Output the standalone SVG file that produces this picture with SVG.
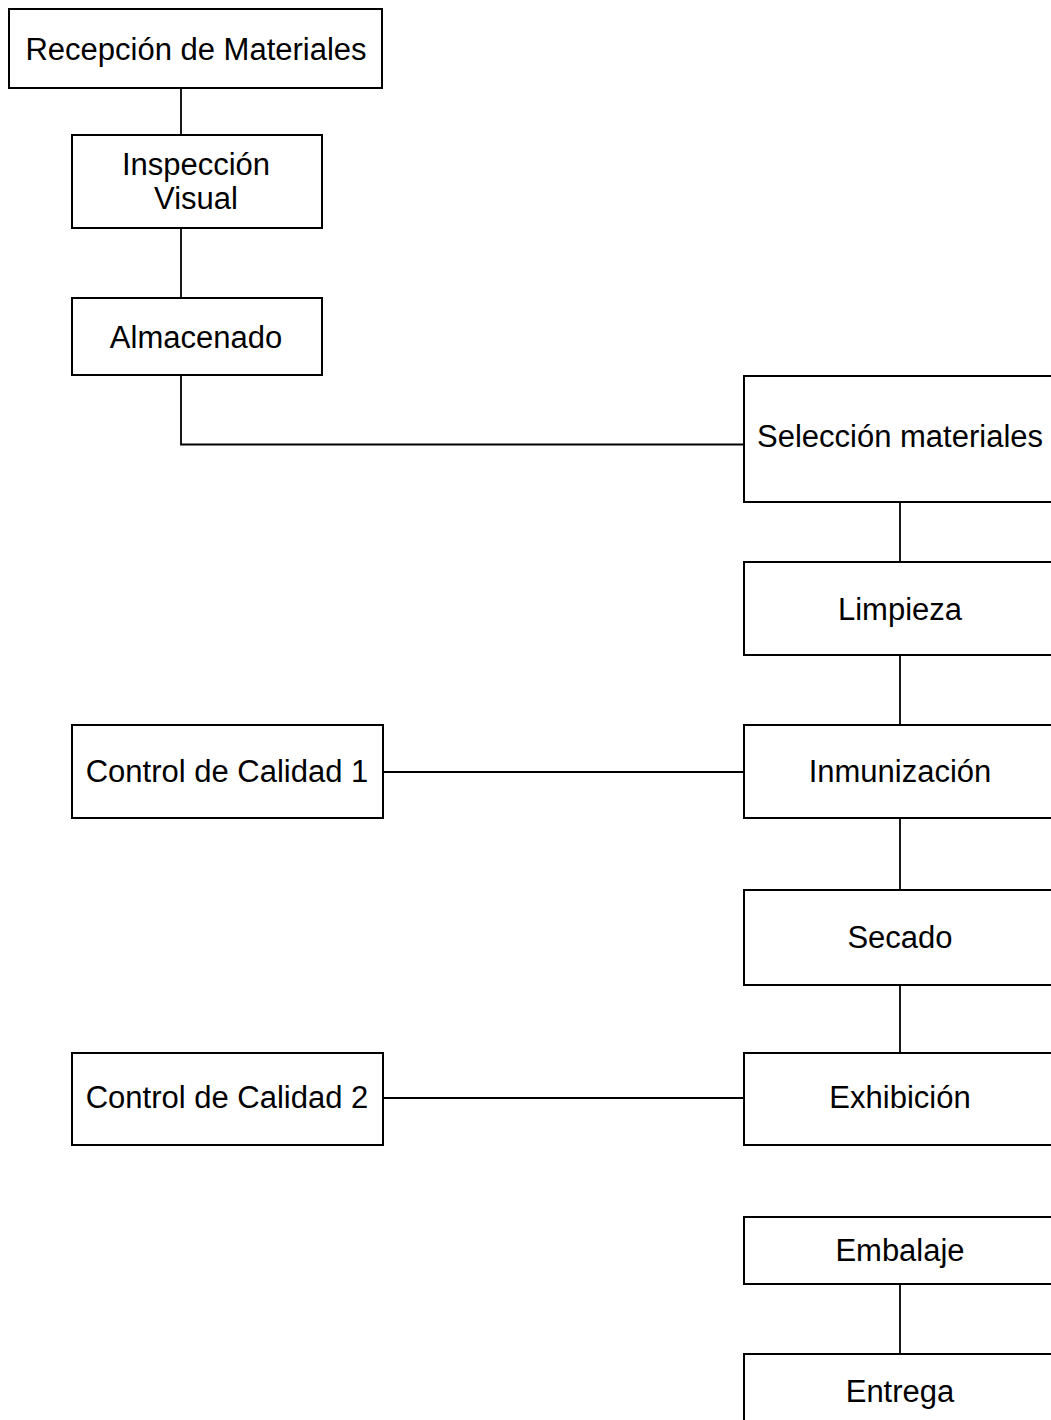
<svg xmlns="http://www.w3.org/2000/svg" width="1051" height="1420" viewBox="0 0 1051 1420">
<style>
rect{fill:#fff;stroke:#000;stroke-width:2}
text{font-family:"Liberation Sans",Arial,sans-serif;font-size:31px;fill:#000;text-anchor:middle}
.c line,.c polyline{stroke:#000;stroke-width:1.8;fill:none}
</style>
<rect x="0" y="0" width="1051" height="1420" style="stroke:none"/>
<g class="c" id="connectors">
<line x1="181" y1="88" x2="181" y2="135"/>
<line x1="181" y1="228" x2="181" y2="298"/>
<polyline points="181,375 181,444.5 744,444.5"/>
<line x1="900" y1="502" x2="900" y2="562"/>
<line x1="900" y1="655" x2="900" y2="725"/>
<line x1="383" y1="772" x2="744" y2="772"/>
<line x1="900" y1="818" x2="900" y2="890"/>
<line x1="900" y1="985" x2="900" y2="1052"/>
<line x1="383" y1="1098" x2="744" y2="1098"/>
<line x1="900" y1="1284" x2="900" y2="1354"/>
</g>
<g id="recepcion"><rect x="9" y="9" width="373" height="79"/><text x="196" y="60">Recepción de Materiales</text></g>
<g id="inspeccion"><rect x="72" y="135" width="250" height="93"/><text x="196" y="175">Inspección</text><text x="196" y="209">Visual</text></g>
<g id="almacenado"><rect x="72" y="298" width="250" height="77"/><text x="196" y="348">Almacenado</text></g>
<g id="seleccion"><rect x="744" y="376" width="314" height="126"/><text x="900" y="447">Selección materiales</text></g>
<g id="limpieza"><rect x="744" y="562" width="314" height="93"/><text x="900" y="620">Limpieza</text></g>
<g id="inmunizacion"><rect x="744" y="725" width="314" height="93"/><text x="900" y="782">Inmunización</text></g>
<g id="control1"><rect x="72" y="725" width="311" height="93"/><text x="227" y="782">Control de Calidad 1</text></g>
<g id="secado"><rect x="744" y="890" width="314" height="95"/><text x="900" y="948">Secado</text></g>
<g id="exhibicion"><rect x="744" y="1053" width="314" height="92"/><text x="900" y="1108">Exhibición</text></g>
<g id="control2"><rect x="72" y="1053" width="311" height="92"/><text x="227" y="1108">Control de Calidad 2</text></g>
<g id="embalaje"><rect x="744" y="1217" width="314" height="67"/><text x="900" y="1261">Embalaje</text></g>
<g id="entrega"><rect x="744" y="1354" width="314" height="100"/><text x="900" y="1402">Entrega</text></g>
</svg>
